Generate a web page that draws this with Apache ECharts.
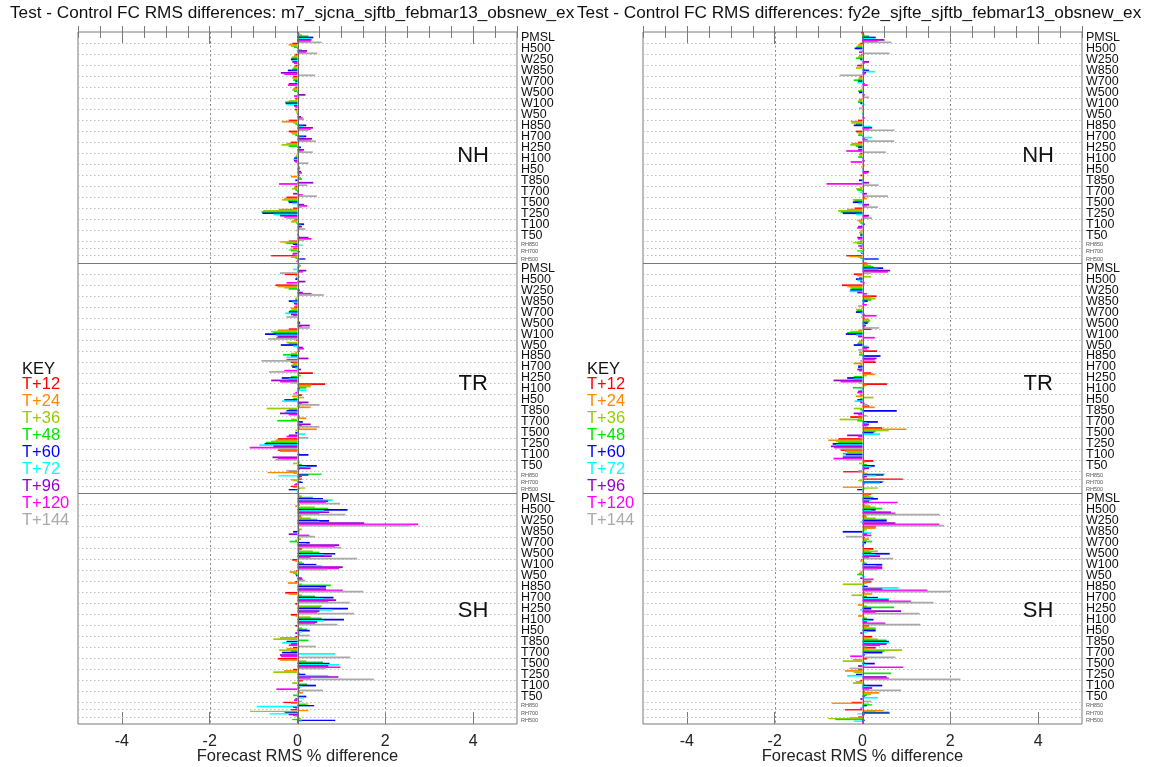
<!DOCTYPE html>
<html><head><meta charset="utf-8">
<script src="https://cdn.jsdelivr.net/npm/echarts@6/dist/echarts.min.js"></script>
<style>html,body{margin:0;padding:0;background:#fff}#c{width:1152px;height:767px}</style>
</head><body><div id="c"></div>
<script>
const variables = ['PMSL','H500','W250','W850','W700','W500','W100','W50','H850','H700','H250','H100','H50','T850','T700','T500','T250','T100','T50','RH850','RH700','RH500'];
const regions = ['NH','TR','SH'];
const leadTimes = ['T+12','T+24','T+36','T+48','T+60','T+72','T+96','T+120','T+144'];
const xTickLabels = [-4,-2,0,2,4];
const titles = ['Test - Control FC RMS differences: m7_sjcna_sjftb_febmar13_obsnew_exp',
                'Test - Control FC RMS differences: fy2e_sjfte_sjftb_febmar13_obsnew_exp'];
const axisName = 'Forecast RMS % difference';

// each row: values for T+12 ... T+144
const leftNH = [
 [0.02,0.05,0.1,0.25,0.36,0.28,0.32,0.3,0.55],
 [-0.12,-0.2,-0.15,-0.08,0.02,0.1,0.22,0.2,0.45],
 [-0.05,-0.08,-0.12,-0.14,-0.15,-0.1,-0.12,-0.08,0.05],
 [-0.05,-0.08,-0.1,-0.12,-0.22,-0.15,-0.38,-0.3,0.4],
 [-0.1,-0.12,-0.08,-0.1,-0.05,-0.06,-0.2,-0.22,-0.05],
 [-0.05,-0.1,-0.12,-0.08,0.03,0.02,0.18,-0.08,0.05],
 [-0.05,-0.05,-0.2,-0.28,-0.27,-0.25,-0.08,-0.05,0.02],
 [-0.06,-0.04,-0.03,-0.02,0.03,0.02,0.08,0.12,0.15],
 [-0.2,-0.36,-0.1,-0.05,0.2,0.12,0.35,0.3,0.25],
 [-0.2,-0.15,-0.12,-0.05,0.2,0.15,0.33,0.3,0.42],
 [-0.15,-0.25,-0.36,-0.2,0.08,0.05,0.15,0.12,0.35],
 [0.02,-0.02,-0.03,-0.05,-0.08,-0.1,-0.08,-0.05,0.25],
 [0.02,0.03,0.05,0.06,0.04,0.05,0.08,0.1,0.05],
 [0.05,-0.15,0.08,0.1,-0.05,0.03,0.36,-0.42,0.22],
 [-0.05,-0.08,-0.12,-0.05,0.03,0.02,-0.1,0.12,0.44],
 [-0.25,-0.3,-0.35,-0.22,-0.2,-0.12,0.15,0.22,0.1],
 [-0.1,-0.42,-0.78,-0.82,-0.8,-0.55,-0.4,-0.3,-0.25],
 [-0.05,-0.12,-0.15,-0.03,0.15,0.08,0.1,0.05,0.18],
 [-0.02,-0.01,0.02,0.02,0.03,0.05,0.25,0.32,0.15],
 [-0.2,-0.4,-0.3,-0.25,-0.1,0.12,-0.05,-0.15,0.02],
 [-0.1,-0.15,-0.2,-0.15,0.05,0.03,-0.1,-0.12,-0.05],
 [-0.6,-0.1,-0.15,-0.05,0.18,0.05,0.02,-0.03,0.01]
];
const leftTR = [
 [0.03,0.05,0.08,0.05,0.02,-0.1,0.2,0.12,-0.4],
 [-0.29,-0.05,0.05,-0.03,-0.05,0.02,0.18,-0.25,-0.1],
 [-0.5,-0.45,-0.3,-0.2,0.05,0.03,0.12,0.32,0.6],
 [0.03,-0.02,-0.05,-0.05,-0.2,-0.12,-0.08,-0.05,0.02],
 [-0.08,-0.15,-0.12,-0.18,-0.2,-0.28,-0.15,-0.1,-0.25],
 [0.02,0.03,0.02,0.05,0.06,0.04,0.28,0.1,0.28],
 [-0.2,-0.45,-0.6,-0.55,-0.74,-0.5,-0.45,-0.48,-0.67],
 [-0.03,0.02,-0.25,-0.2,-0.38,-0.1,0.12,0.15,0.02],
 [0.05,-0.05,-0.15,-0.33,-0.15,-0.25,0.25,-0.25,-0.82],
 [-0.15,-0.1,-0.12,-0.15,-0.12,-0.05,0.08,-0.3,-0.65],
 [0.35,0.02,0.08,-0.15,-0.36,-0.2,-0.6,-0.4,-0.15],
 [0.63,0.32,0.3,0.2,0.05,0.2,0.03,-0.05,-0.1],
 [0.1,-0.12,0.15,-0.1,-0.3,-0.35,0.25,0.1,0.5],
 [0.05,0.3,-0.7,-0.2,-0.25,-0.28,-0.4,-0.2,0.05],
 [0.05,0.2,-0.15,-0.46,0.12,0.05,0.3,0.1,0.5],
 [0.05,0.44,-0.05,0.02,-0.05,0.17,-0.2,-0.25,0.25],
 [-0.45,-0.5,-0.6,-0.72,-0.75,-0.87,-0.55,-1.09,-0.45],
 [-0.45,-0.4,0.03,0.05,0.25,0.02,-0.57,-0.45,-0.5],
 [0.02,0.05,-0.1,0.1,0.44,0.2,0.3,0.05,-0.25],
 [-0.2,-0.68,-0.1,0.55,0.25,-0.44,0.1,0.05,0.02],
 [0.1,-0.15,-0.1,0.08,0.12,0.05,-0.05,-0.08,-0.02],
 [-0.15,-0.1,0.18,0.05,-0.2,-0.05,0.02,0.03,0.01]
];
const leftSH = [
 [0.02,0.05,0.1,0.35,0.58,0.8,0.7,0.65,0.97],
 [0.05,-0.05,0.4,0.7,1.14,0.6,0.72,0.5,1.09],
 [0.08,0.1,0.3,0.45,0.72,0.5,1.52,2.75,2.56],
 [0.02,0.03,0.1,0.05,-0.1,0.05,-0.2,0.27,0.4],
 [0.03,0.08,-0.05,-0.18,0.28,0.2,0.95,0.85,1.0],
 [0.1,0.05,0.35,0.5,0.86,0.6,0.78,0.3,1.36],
 [-0.12,-0.05,0.1,0.15,0.43,0.55,1.03,0.95,0.68],
 [-0.03,-0.18,-0.1,-0.05,-0.03,0.02,0.1,0.12,0.18],
 [-0.05,-0.22,0.1,0.76,0.65,0.5,0.65,1.03,1.5],
 [-0.28,-0.2,0.1,0.4,0.82,0.6,0.88,0.7,1.19],
 [-0.05,0.02,0.55,0.52,1.15,0.8,0.5,0.45,1.29],
 [-0.15,-0.05,0.3,0.55,1.06,0.6,0.45,0.4,0.91],
 [-0.05,0.02,0.1,0.22,0.28,0.1,-0.05,0.05,0.28],
 [-0.05,-0.4,-0.55,0.25,-0.25,-0.35,-0.15,-0.2,0.42],
 [-0.1,-0.25,-0.42,-0.15,-0.35,0.86,-0.4,-0.38,1.2],
 [-0.45,-0.4,0.2,0.58,0.73,0.95,0.7,0.98,0.65],
 [-0.1,-0.3,-0.55,0.05,0.18,0.7,0.93,0.3,1.74],
 [0.12,0.05,-0.12,0.22,0.42,0.1,0.05,-0.48,0.58],
 [0.05,0.12,0.02,-0.1,0.2,0.15,-0.05,-0.08,0.1],
 [-0.32,-0.15,0.25,0.2,0.38,-0.93,-0.1,-0.05,0.02],
 [-0.15,0.25,-1.08,-0.3,-0.28,-0.63,-0.2,-0.1,-0.05],
 [0.02,0.05,0.08,-0.12,0.86,0.1,0.03,0.02,0.01]
];
const rightNH = [
 [-0.03,-0.02,0.05,0.15,0.3,0.28,0.5,0.35,0.66],
 [-0.05,-0.1,-0.12,-0.15,-0.18,-0.05,0.02,-0.08,0.62],
 [-0.03,-0.08,-0.1,-0.15,-0.05,-0.03,0.15,0.05,-0.05],
 [-0.12,-0.05,-0.15,0.05,0.15,0.28,0.08,0.05,-0.52],
 [-0.05,-0.08,-0.1,-0.2,-0.1,-0.12,0.05,0.12,-0.03],
 [0.02,-0.02,-0.05,-0.1,-0.08,0.03,0.05,0.03,0.15],
 [-0.02,-0.08,-0.1,-0.1,-0.05,0.05,0.02,0.03,-0.08],
 [0.01,-0.02,0.01,0.02,0.03,0.01,0.03,0.05,0.02],
 [-0.1,-0.27,-0.25,-0.15,-0.2,0.2,0.22,0.15,0.73],
 [-0.15,-0.12,-0.08,-0.1,0.03,0.22,0.05,0.12,0.72],
 [-0.1,-0.25,-0.28,-0.15,-0.1,0.02,-0.1,-0.37,0.53],
 [-0.05,-0.08,-0.05,-0.1,0.02,0.03,0.05,-0.27,0.02],
 [0.03,0.05,-0.03,0.02,0.01,0.02,0.15,0.12,0.02],
 [-0.05,0.02,0.03,0.02,-0.08,-0.03,0.15,-0.82,0.37],
 [0.02,-0.05,-0.15,-0.12,0.03,-0.05,0.1,0.05,0.58],
 [0.05,0.1,-0.22,-0.18,-0.22,-0.1,0.15,0.1,0.35],
 [-0.18,-0.35,-0.56,-0.5,-0.45,-0.15,0.15,0.12,0.22],
 [-0.03,-0.12,-0.08,-0.05,0.05,-0.03,-0.1,-0.12,0.02],
 [-0.02,-0.05,-0.08,-0.05,-0.05,-0.03,-0.12,-0.1,-0.05],
 [-0.05,-0.12,-0.22,-0.12,0.02,-0.05,-0.1,-0.05,0.02],
 [-0.05,0.02,0.05,-0.12,0.03,-0.05,-0.03,0.02,0.01],
 [-0.37,-0.3,-0.1,-0.05,0.37,0.05,0.02,0.03,0.02]
];
const rightTR = [
 [0.1,0.12,0.2,0.25,0.47,0.35,0.63,0.58,0.2],
 [-0.2,-0.12,0.2,-0.08,-0.15,-0.12,-0.05,0.05,0.05],
 [-0.47,-0.35,-0.28,-0.25,-0.28,-0.3,-0.12,0.1,0.03],
 [0.32,0.2,0.3,0.2,0.12,0.05,0.03,0.1,-0.1],
 [0.02,-0.03,-0.15,-0.12,-0.15,-0.05,0.05,0.32,-0.03],
 [0.05,0.15,0.18,0.15,0.12,0.05,0.08,0.05,0.38],
 [0.2,-0.1,-0.28,-0.35,-0.38,-0.15,-0.1,0.28,0.01],
 [-0.03,-0.08,-0.1,-0.12,-0.2,0.1,0.15,0.1,-0.1],
 [0.33,-0.08,-0.05,-0.08,0.41,0.05,0.32,0.28,-0.05],
 [0.3,-0.2,-0.05,-0.1,-0.1,-0.05,-0.12,-0.08,0.02],
 [0.2,0.28,0.1,-0.2,-0.35,-0.2,-0.66,-0.5,-0.1],
 [0.56,0.1,0.05,-0.22,0.03,-0.05,-0.1,-0.12,-0.05],
 [-0.05,-0.15,0.25,-0.05,-0.12,-0.18,-0.05,0.05,0.12],
 [0.15,0.28,-0.2,-0.05,0.78,-0.05,-0.2,-0.1,0.1],
 [-0.28,-0.1,-0.52,-0.12,0.35,0.1,0.15,0.12,0.05],
 [0.45,1.0,0.6,0.3,0.25,0.4,-0.35,-0.1,-0.05],
 [-0.55,-0.78,-0.6,-0.55,-0.68,-0.6,-0.72,-0.65,-0.5],
 [-0.5,-0.4,-0.35,-0.45,-0.38,-0.45,-0.45,-0.66,-0.38],
 [0.25,0.05,-0.08,0.1,0.28,0.2,0.15,0.05,-0.1],
 [-0.44,0.05,0.12,0.5,0.48,0.3,0.1,0.05,0.02],
 [0.92,-0.05,-0.1,0.48,0.45,0.4,0.05,0.02,0.01],
 [0.03,-0.45,0.35,0.05,-0.12,0.02,0.02,0.01,0.01]
];
const rightSH = [
 [0.2,0.15,0.18,0.25,0.35,0.2,0.15,0.8,0.1],
 [0.05,0.18,0.3,0.45,0.3,0.2,0.65,0.75,1.76],
 [0.08,0.1,0.3,0.55,0.55,-0.05,0.75,1.75,1.86],
 [0.3,0.3,0.1,0.05,-0.45,0.2,0.1,0.2,-0.38],
 [0.05,0.15,0.1,0.22,0.08,0.05,0.03,0.02,0.02],
 [0.25,0.15,0.35,0.2,0.62,0.3,0.4,0.15,0.7],
 [-0.03,-0.05,0.05,0.1,0.45,0.3,0.45,0.45,0.35],
 [0.02,-0.05,-0.08,-0.12,0.03,0.05,-0.05,0.25,0.2],
 [0.2,0.1,-0.45,0.05,0.12,0.82,0.45,1.48,2.0],
 [0.05,0.22,-0.25,0.1,0.35,0.6,0.6,1.1,1.62],
 [0.02,-0.1,0.1,0.72,0.2,-0.05,0.88,0.3,1.3],
 [0.02,-0.1,0.05,0.1,0.25,0.15,0.1,0.52,1.32],
 [0.15,0.1,0.3,0.3,0.3,0.1,-0.05,0.03,0.05],
 [0.22,0.15,0.35,0.55,0.6,0.62,0.55,0.4,0.1],
 [0.3,0.15,0.9,0.5,0.45,0.1,0.05,-0.28,0.75],
 [0.1,-0.22,-0.45,0.05,0.28,0.1,-0.1,0.93,-0.3],
 [-0.1,-0.4,-0.2,0.65,-0.15,-0.35,0.55,0.6,2.23],
 [-0.05,-0.15,-0.22,0.05,0.45,0.1,0.22,0.15,0.88],
 [0.05,0.38,0.2,0.1,0.05,0.35,-0.05,0.03,0.2],
 [-0.25,-0.7,0.15,0.22,0.1,0.05,0.03,-0.05,0.01],
 [-0.4,0.48,0.3,0.6,0.62,-0.12,0.05,0.03,0.02],
 [-0.1,-0.3,-0.78,-0.62,0.05,-0.2,0.02,0.01,0.01]
];

// ---- styling / layout ----
const colors = ['#ff0000','#ff8800','#99cc00','#00e600','#0000ff','#00ffff','#9900cc','#ff00ff','#aaaaaa'];
const FONT = '"Liberation Sans", Arial, Helvetica, sans-serif';
const XMIN = -5, XMAX = 5;
const REGION_LABEL_OFFSET = [33.8, 33, 32.2];  // vertical placement of NH/TR/SH text inside each block (axis units)

// row heights in axis units: main rows 3, RH rows 2
const rowSize = variables.map(v => v.indexOf('RH') === 0 ? 2 : 3);
const rowStart = [];
let acc = 0;
rowSize.forEach(s => { rowStart.push(acc); acc += s; });
const REGION = acc;
const YMAX = REGION * regions.length;

const labelAt = {};
const labelValues = [0];   // empty edge label first, so the first row label is never the "min label"
regions.forEach((r, ri) => variables.forEach((v, vi) => {
  const c = ri * REGION + rowStart[vi] + rowSize[vi] / 2;
  labelAt[c.toFixed(2)] = v;
  labelValues.push(c);
}));
labelValues.push(YMAX);
const rowBoundaries = [];
regions.forEach((r, ri) => variables.forEach((v, vi) => {
  if (vi > 0) rowBoundaries.push(ri * REGION + rowStart[vi]);
}));
const regionBoundaries = regions.slice(1).map((r, i) => (i + 1) * REGION);

const panels = [
  {title: titles[0], data: [leftNH, leftTR, leftSH], gridLeft: 78, titleLeft: 10, keyLeft: 17, titleWidth: 566},
  {title: titles[1], data: [rightNH, rightTR, rightSH], gridLeft: 643, titleLeft: 577, keyLeft: 582, titleWidth: 572}
];
const GRID_TOP = 32, GRID_H = 692, GRID_W = 439;

const option = {
  backgroundColor: '#fff',
  animation: false,
  textStyle: {fontFamily: FONT},
  title: [], legend: [], grid: [], xAxis: [], yAxis: [], series: []
};

function lineRender(style, z) {
  return function (params, api) {
    const a = api.coord([api.value(0), api.value(1)]);
    const b = api.coord([api.value(2), api.value(3)]);
    const vertical = Math.abs(a[0] - b[0]) < 0.01;
    let x1 = a[0], y1 = a[1], x2 = b[0], y2 = b[1];
    if (vertical) { x1 = x2 = Math.round(a[0]) + 0.5; } else { y1 = y2 = Math.round(a[1]) + 0.5; }
    return {type: 'line', shape: {x1, y1, x2, y2}, style: style, z2: z || 0};
  };
}

panels.forEach((p, gi) => {
  option.title.push({
    text: p.title, left: p.titleLeft, top: 4, padding: 0,
    textStyle: {fontSize: 17.2, fontWeight: 'normal', color: '#111', fontFamily: FONT, lineHeight: 18,
      width: p.titleWidth, overflow: 'truncate', ellipsis: ''}
  });
  option.title.push({
    text: 'KEY', left: p.keyLeft + 5, top: 361, padding: 0,
    textStyle: {fontSize: 16.5, fontWeight: 'normal', color: '#111', fontFamily: FONT, lineHeight: 16}
  });
  option.legend.push({
    orient: 'vertical', left: p.keyLeft, top: 375.6, padding: 0, itemGap: 0,
    itemWidth: 0, itemHeight: 0, selectedMode: false,
    textStyle: {fontSize: 16.5, fontFamily: FONT, lineHeight: 15.3},
    data: leadTimes.map((n, i) => ({name: n, icon: 'rect', itemStyle: {opacity: 0}, textStyle: {color: colors[i]}}))
  });
  option.grid.push({
    left: p.gridLeft, top: GRID_TOP, width: GRID_W, height: GRID_H,
    containLabel: false, outerBoundsMode: 'none',
    show: true, borderColor: '#7a7a7a', borderWidth: 1, backgroundColor: 'transparent'
  });
  const xb = gi * 4;
  option.xAxis.push({
    gridIndex: gi, type: 'value', min: XMIN, max: XMAX, interval: 0.5, position: 'bottom',
    axisLine: {show: false}, splitLine: {show: false},
    axisTick: {inside: true, length: 6, lineStyle: {color: '#7a7a7a'}},
    axisLabel: {margin: 10, fontSize: 16, color: '#222', fontFamily: FONT, lineHeight: 16,
      formatter: v => xTickLabels.indexOf(Math.round(v * 100) / 100) >= 0 ? String(Math.round(v)) : ''},
    name: axisName, nameLocation: 'middle', nameGap: 24, nameMoveOverlap: false,
    nameTextStyle: {fontSize: 16.5, color: '#222', fontFamily: FONT, lineHeight: 17}
  });
  option.xAxis.push({
    gridIndex: gi, type: 'value', min: XMIN, max: XMAX, position: 'bottom',
    axisLine: {show: false}, splitLine: {show: false}, axisLabel: {show: false},
    axisTick: {inside: true, length: 12, customValues: xTickLabels, lineStyle: {color: '#7a7a7a'}}
  });
  option.xAxis.push({
    gridIndex: gi, type: 'value', min: XMIN, max: XMAX, interval: 0.5, position: 'top',
    axisLine: {show: false}, splitLine: {show: false}, axisLabel: {show: false},
    axisTick: {inside: true, length: 6, lineStyle: {color: '#7a7a7a'}}
  });
  option.xAxis.push({
    gridIndex: gi, type: 'value', min: XMIN, max: XMAX, position: 'top',
    axisLine: {show: false}, splitLine: {show: false}, axisLabel: {show: false},
    axisTick: {inside: true, length: 12, customValues: xTickLabels, lineStyle: {color: '#7a7a7a'}}
  });
  option.yAxis.push({
    gridIndex: gi, type: 'value', min: 0, max: YMAX, inverse: true, position: 'right',
    axisLine: {show: false}, axisTick: {show: false}, splitLine: {show: false},
    axisLabel: {
      customValues: labelValues, margin: 4, hideOverlap: false,
      fontSize: 12.5, fontFamily: FONT, color: '#111', lineHeight: 9,
      formatter: v => {
        const n = labelAt[(+v).toFixed(2)];
        if (!n) return '';
        return n.indexOf('RH') === 0 ? '{s|' + n + '}' : n;
      },
      rich: {
        s: {fontSize: 5.5, fontFamily: FONT, color: '#555', lineHeight: 6}
      }
    }
  });

  const common = {xAxisIndex: xb, yAxisIndex: gi, silent: true, animation: false};
  // dotted row separators
  option.series.push(Object.assign({
    type: 'custom', name: 'rows' + gi, z: 1,
    data: rowBoundaries.map(y => [XMIN, y, XMAX, y]),
    renderItem: lineRender({stroke: '#bcbcbc', lineWidth: 1, lineDash: [1.5, 2.5]})
  }, common));
  // vertical dotted lines at +-2
  option.series.push(Object.assign({
    type: 'custom', name: 'vgrid' + gi, z: 1,
    data: xTickLabels.filter(x => Math.abs(x) === 2).map(x => [x, 0, x, YMAX]),
    renderItem: lineRender({stroke: '#8a8a8a', lineWidth: 1, lineDash: [2, 2.5]})
  }, common));
  // region separators
  option.series.push(Object.assign({
    type: 'custom', name: 'regions' + gi, z: 4,
    data: regionBoundaries.map(y => [XMIN, y, XMAX, y]),
    renderItem: lineRender({stroke: '#7a7a7a', lineWidth: 1})
  }, common));

  // bars (one custom series per lead time)
  leadTimes.forEach((lt, li) => {
    const data = [];
    p.data.forEach((regRows, ri) => regRows.forEach((row, vi) => {
      const top = ri * REGION + rowStart[vi];
      const s = rowSize[vi] / leadTimes.length;
      data.push([row[li], top + s * li, top + s * (li + 1)]);
    }));
    option.series.push(Object.assign({
      type: 'custom', name: lt, z: 2, color: colors[li],
      data: data,
      encode: {x: 0, y: [1, 2]},
      renderItem: function (params, api) {
        const a = api.coord([0, api.value(1)]);
        const b = api.coord([api.value(0), api.value(2)]);
        const pad = 0.25;
        return {type: 'rect',
          shape: {x: Math.min(a[0], b[0]), y: a[1] - pad, width: Math.abs(b[0] - a[0]), height: b[1] - a[1] + 2 * pad},
          style: {fill: colors[li]}};
      }
    }, common));
  });

  // zero line
  option.series.push(Object.assign({
    type: 'custom', name: 'zero' + gi, z: 3,
    data: [[0, 0, 0, YMAX]],
    renderItem: lineRender({stroke: '#6a6a6a', lineWidth: 1})
  }, common));

  // region labels
  option.series.push(Object.assign({
    type: 'custom', name: 'regionLabels' + gi, z: 5,
    data: regions.map((r, ri) => [4, ri * REGION + REGION_LABEL_OFFSET[ri], ri]),
    renderItem: function (params, api) {
      const c = api.coord([api.value(0), api.value(1)]);
      return {type: 'text', x: c[0], y: c[1],
        style: {text: regions[api.value(2)], fontSize: 22, fontFamily: FONT, fill: '#111', align: 'center', verticalAlign: 'middle'}};
    }
  }, common));
});

const chart = echarts.init(document.getElementById('c'), null, {renderer: 'canvas'});
chart.setOption(option);
</script>
</body></html>
